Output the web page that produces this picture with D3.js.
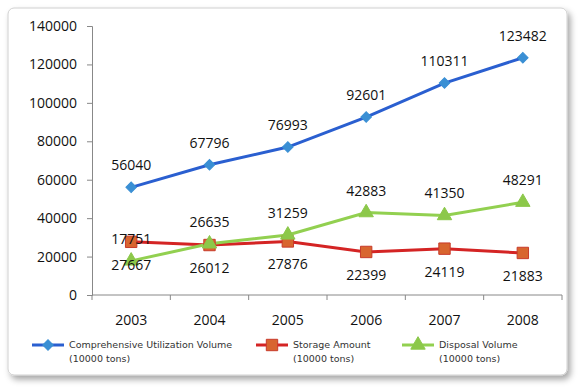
<html>
<head>
  <title>Chart</title>
  <style>
  body { margin: 0; background: #fff; }
  text { font-family: "Open Sans", sans-serif; }
  .legend text { font-family: "DejaVu Sans", sans-serif; font-size: 9.5px; fill: #333; }
  </style>
</head>
<body>
<div id="chart"></div>
<script src="https://d3js.org/d3.v7.min.js"></script>
<script>
var years = ["2003", "2004", "2005", "2006", "2007", "2008"];
var utilization = [56040, 67796, 76993, 92601, 110311, 123482];
var storage = [27667, 26012, 27876, 22399, 24119, 21883];
var disposal = [17751, 26635, 31259, 42883, 41350, 48291];
var yTicks = [0, 20000, 40000, 60000, 80000, 100000, 120000, 140000];

var W = 579, H = 389;
var margin = {left: 92, right: 17, top: 26, bottom: 94};

var svg = d3.select("#chart").append("svg").attr("width", W).attr("height", H);

// frame with shadow
var defs = svg.append("defs");
var f = defs.append("filter").attr("id", "sh").attr("x", "-5%").attr("y", "-5%").attr("width", "112%").attr("height", "115%");
f.append("feDropShadow").attr("dx", 3).attr("dy", 4).attr("stdDeviation", 3).attr("flood-color", "#000").attr("flood-opacity", 0.35);
svg.append("rect").attr("x", 8).attr("y", 8).attr("width", 559).attr("height", 367)
  .attr("rx", 6).attr("fill", "#fff").attr("stroke", "#d0d0d0").attr("filter", "url(#sh)");

var x = d3.scaleBand().domain(years).range([margin.left, W - margin.right]);
var y = d3.scaleLinear().domain([0, 140000]).range([H - margin.bottom, margin.top]);
var y0 = y(0);

// y axis
var ya = svg.append("g").attr("transform", "translate(" + margin.left + ",0)")
  .call(d3.axisLeft(y).tickValues(yTicks).tickSize(5).tickPadding(10).tickFormat(d3.format("d")));
ya.select(".domain").attr("stroke", "#888");
ya.selectAll(".tick line").attr("stroke", "#888");
ya.selectAll("text").attr("font-size", 14).attr("fill", "#111").style("font-family", "Open Sans");

// x axis
var xa = svg.append("g").attr("transform", "translate(0," + y0 + ")");
xa.append("line").attr("x1", x.range()[0]).attr("x2", x.range()[1]).attr("stroke", "#888");
var bounds = years.map(function(d) { return x(d); }).concat([x.range()[1]]);
xa.selectAll(".xt").data(bounds).enter().append("line")
  .attr("x1", function(d) { return d; }).attr("x2", function(d) { return d; })
  .attr("y1", 0).attr("y2", 5).attr("stroke", "#888");
xa.selectAll(".xl").data(years).enter().append("text")
  .attr("x", function(d) { return x(d) + x.bandwidth() / 2; })
  .attr("y", 30).attr("text-anchor", "middle").attr("font-size", 14).attr("fill", "#111")
  .text(function(d) { return d; });

function cx(i) { return x(years[i]) + x.bandwidth() / 2; }

// diamond = square turned 45 degrees
var series = [
  {vals: utilization, line: "#2a5fd0", fill: "#3a8fd4", stroke: "#3a8fd4", sym: d3.symbolSquare, size: 55, rot: 45, lab: -22},
  {vals: storage, line: "#d42424", fill: "#d8652f", stroke: "#c83a2a", sym: d3.symbolSquare, size: 130, rot: 0, lab: 23},
  {vals: disposal, line: "#92d050", fill: "#8cc84a", stroke: "#8cc84a", sym: d3.symbolTriangle, size: 90, rot: 0, lab: -22}
];

var line = d3.line().x(function(d, i) { return cx(i); }).y(function(d) { return y(d); });

series.forEach(function(s) {
  svg.append("path").datum(s.vals).attr("d", line).attr("fill", "none")
    .attr("stroke", s.line).attr("stroke-width", 3);
});
series.forEach(function(s) {
  svg.selectAll(null).data(s.vals).enter().append("path")
    .attr("d", d3.symbol().type(s.sym).size(s.size))
    .attr("transform", function(d, i) { return "translate(" + cx(i) + "," + y(d) + ") rotate(" + s.rot + ")"; })
    .attr("fill", s.fill).attr("stroke", s.stroke).attr("stroke-width", 1);
});
series.forEach(function(s) {
  svg.selectAll(null).data(s.vals).enter().append("text")
    .attr("x", function(d, i) { return cx(i); })
    .attr("y", function(d) { return y(d) + s.lab; })
    .attr("dy", "0.35em").attr("text-anchor", "middle").attr("font-size", 14).attr("fill", "#111")
    .text(function(d) { return d; });
});

// legend
var legendItems = [
  {name: "Comprehensive Utilization Volume", s: series[0], x: 32},
  {name: "Storage Amount", s: series[1], x: 256},
  {name: "Disposal Volume", s: series[2], x: 402}
];
var lg = svg.append("g").attr("class", "legend");
legendItems.forEach(function(it) {
  var g = lg.append("g").attr("transform", "translate(" + it.x + ",345)");
  g.append("line").attr("x1", 0).attr("x2", 32).attr("stroke", it.s.line).attr("stroke-width", 3);
  g.append("path").attr("d", d3.symbol().type(it.s.sym).size(it.s.size))
    .attr("transform", "translate(16,0) rotate(" + it.s.rot + ")")
    .attr("fill", it.s.fill).attr("stroke", it.s.stroke);
  g.append("text").attr("x", 37).attr("y", 3).text(it.name);
  g.append("text").attr("x", 37).attr("y", 17).text("(10000 tons)");
});
</script>
</body>
</html>
